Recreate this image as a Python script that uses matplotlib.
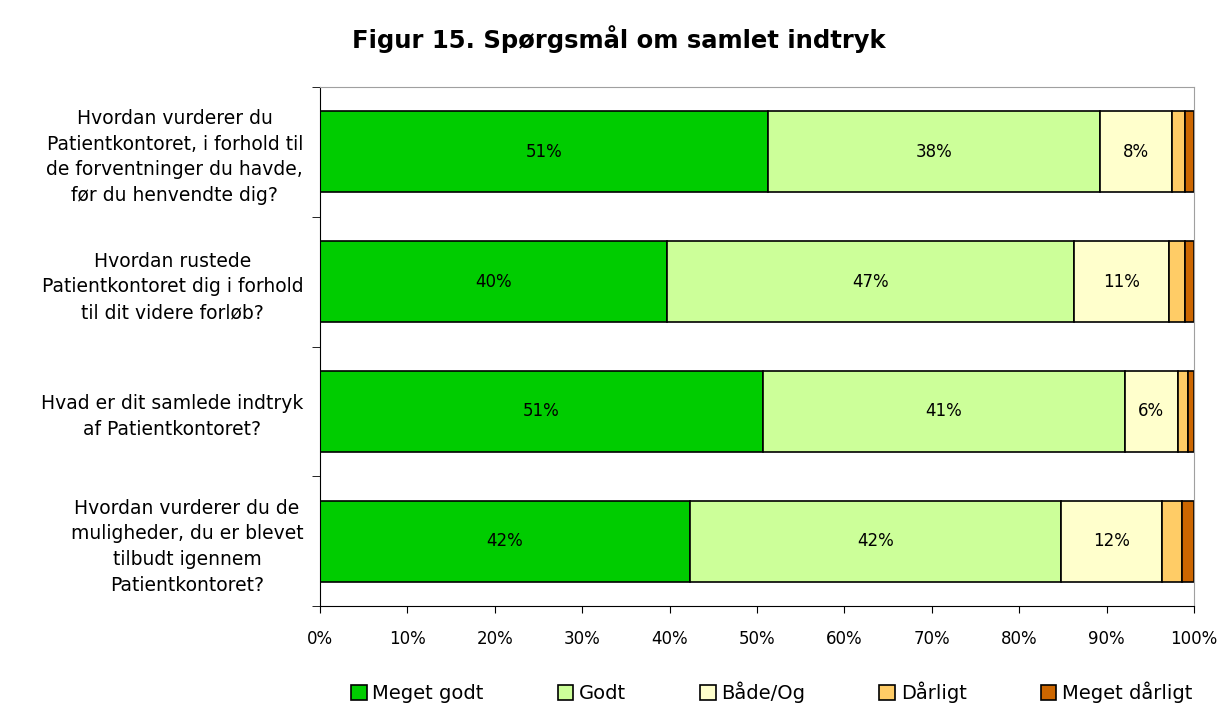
import numpy as np
import matplotlib
matplotlib.use('Agg')
import matplotlib.pyplot as plt
from matplotlib.ticker import FixedLocator, PercentFormatter

# Spørgsmål (kategorier) og svarfordeling i procent
questions = [
    "Hvordan vurderer du\nPatientkontoret, i forhold til\nde forventninger du havde,\nfør du henvendte dig?",
    "Hvordan rustede\nPatientkontoret dig i forhold\ntil dit videre forløb?",
    "Hvad er dit samlede indtryk\naf Patientkontoret?",
    "Hvordan vurderer du de\nmuligheder, du er blevet\ntilbudt igennem\nPatientkontoret?",
]
answers = ["Meget godt", "Godt", "Både/Og", "Dårligt", "Meget dårligt"]
meget_godt = [51.3, 39.7, 50.7, 42.3]
godt = [37.9, 46.6, 41.4, 42.5]
baade_og = [8.3, 10.8, 6.0, 11.5]
daarligt = [1.5, 1.9, 1.2, 2.3]
meget_daarligt = [1.0, 1.0, 0.7, 1.4]
colors = ["#00cc00", "#ccff99", "#ffffcc", "#ffcc66", "#cc6600"]

series = [meget_godt, godt, baade_og, daarligt, meget_daarligt]

plt.rcParams['font.family'] = ['DejaVu Sans']
fig = plt.figure(figsize=(12.21, 7.05), dpi=100)
ax = fig.add_axes([0.262, 0.140, 0.716, 0.737])

y = np.arange(len(questions))
left = np.zeros(len(questions))
for vals, name, col in zip(series, answers, colors):
    vals = np.array(vals)
    bars = ax.barh(y, vals, left=left, height=0.62, color=col,
                   edgecolor='black', linewidth=1.2, label=name)
    # kun de tre første kategorier får procenttal
    if name in answers[:3]:
        for b, v in zip(bars, vals):
            ax.text(b.get_x() + b.get_width() / 2, b.get_y() + b.get_height() / 2,
                    f"{v:.0f}%", ha='center', va='center', fontsize=12)
    left += vals

ax.set_xlim(0, 100)
ax.set_ylim(3.5, -0.5)
ax.xaxis.set_major_locator(FixedLocator(np.arange(0, 101, 10)))
ax.xaxis.set_major_formatter(PercentFormatter(decimals=0))
ax.tick_params(axis='x', labelsize=12, length=5, direction='out', pad=12)

ax.set_yticks(y)
ax.set_yticklabels(questions, multialignment='center', fontsize=13.5,
                   linespacing=1.45)
ax.tick_params(axis='y', which='major', length=0, pad=12)
ax.yaxis.set_minor_locator(FixedLocator(np.arange(-0.5, 4, 1)))
ax.tick_params(axis='y', which='minor', length=6, direction='out')

for s in ['top', 'right']:
    ax.spines[s].set_color('#a0a0a0')
for s in ['left', 'bottom']:
    ax.spines[s].set_color('black')

fig.suptitle("Figur 15. Spørgsmål om samlet indtryk", fontsize=17.5,
             fontweight='bold', y=0.965, x=0.507)

fig.legend(loc='center', bbox_to_anchor=(0.632, 0.018), ncol=5,
           frameon=False, fontsize=14, handlelength=0.8, handleheight=0.8,
           handletextpad=0.3, columnspacing=3.8)

fig.savefig('out.png', dpi=100)
